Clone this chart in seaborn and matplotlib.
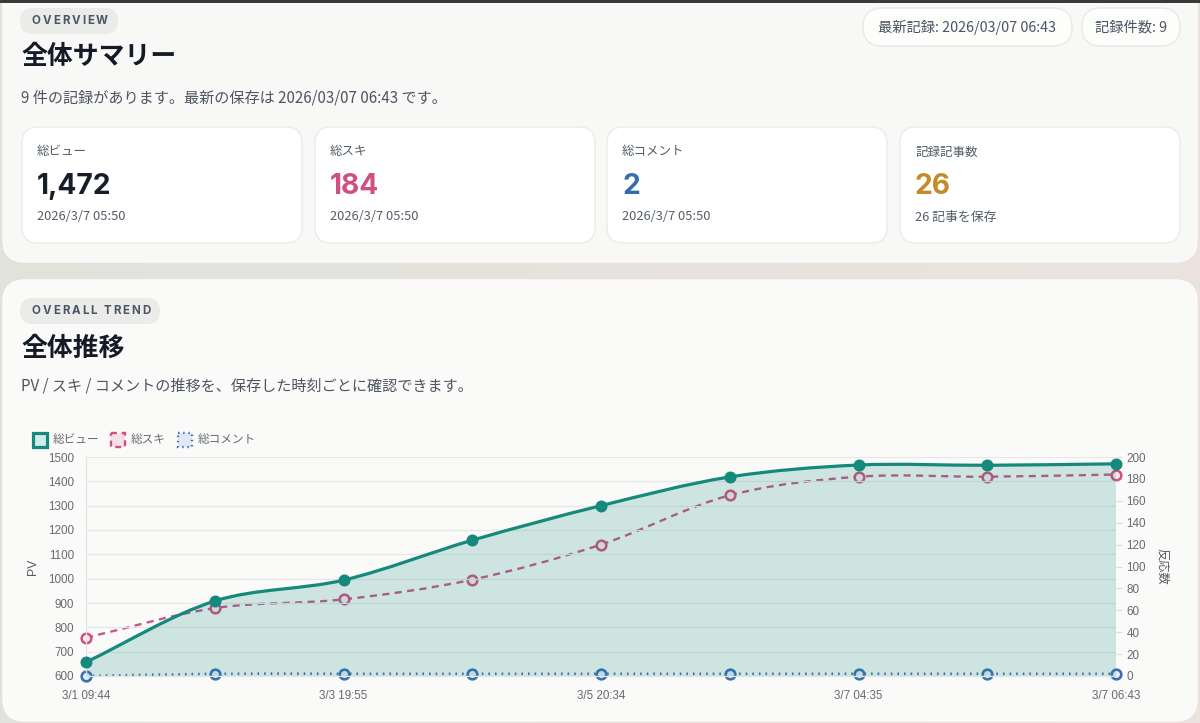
import numpy as np
import pandas as pd
import matplotlib
matplotlib.use("Agg")
import matplotlib.pyplot as plt
import seaborn as sns
from matplotlib.patches import FancyBboxPatch, Rectangle, PathPatch
from matplotlib.path import Path

# ---------------- data ----------------
record_idx = list(range(9))
pv_values = [657, 908, 994, 1158, 1300, 1418, 1467, 1466, 1472]
suki_values = [35, 62, 70, 88, 120, 165, 182, 182, 184]
comment_values = [0, 2, 2, 2, 2, 2, 2, 2, 2]
x_tick_idx = [0, 2, 4, 6, 8]
x_tick_labels = ["3/1 09:44", "3/3 19:55", "3/5 20:34", "3/7 04:35", "3/7 06:43"]
pv_ticks = list(range(600, 1501, 100))
react_ticks = list(range(0, 201, 20))
series_names = ["総ビュー", "総スキ", "総コメント"]

card_labels = ["総ビュー", "総スキ", "総コメント", "記録記事数"]
card_values = ["1,472", "184", "2", "26"]
card_notes = ["2026/3/7 05:50", "2026/3/7 05:50", "2026/3/7 05:50", "26 記事を保存"]

# ---------------- style ----------------
TEAL = "#15897b"
PINK = "#d0507f"
BLUE = "#3a6fb3"
card_colors = ["#161d2b", PINK, "#356cb0", "#c38b2a"]
JP = ["Noto Sans CJK JP", "DejaVu Sans"]
LAT = ["Liberation Sans", "DejaVu Sans"]
INTER = ["Inter", "DejaVu Sans"]

sns.set_theme(style="white")
plt.rcParams["font.family"] = JP

W, H = 1200, 723
fig = plt.figure(figsize=(W / 100, H / 100), dpi=100)
bg = fig.add_axes([0, 0, 1, 1])
bg.set_zorder(-10)
bg.set_xlim(0, W)
bg.set_ylim(H, 0)
bg.axis("off")

# outer gradient background
grad = np.linspace(0, 1, 256)
c0 = np.array([0.886, 0.890, 0.862])
c1 = np.array([0.922, 0.890, 0.872])
img = (c0[None, :] * (1 - grad[:, None]) + c1[None, :] * grad[:, None])[None, :, :]
bg.imshow(img, extent=(0, W, H, 0), aspect="auto", zorder=0)

# panels
bg.add_patch(FancyBboxPatch((3, -40), 1194, 302, boxstyle="round,pad=0,rounding_size=22",
                            fc="#f8f8f7", ec="#fbfbfa", lw=1, zorder=1))
bg.add_patch(FancyBboxPatch((3, 280), 1194, 441, boxstyle="round,pad=0,rounding_size=22",
                            fc="#fafaf9", ec="#fdfdfc", lw=1, zorder=1))
bg.add_patch(Rectangle((0, 0), W, 2.5, fc="#3a3a3a", ec="none", zorder=5))

renderer = fig.canvas.get_renderer()


def spaced_text(x, y, s, spacing, space_px, **kw):
    for ch in s:
        if ch == " ":
            x += space_px
            continue
        t = bg.text(x, y, ch, ha="left", va="center", **kw)
        bb = t.get_window_extent(renderer=renderer)
        x += bb.width + spacing


def pill(x, y, w, h, fc, ec="none"):
    bg.add_patch(FancyBboxPatch((x, y), w, h, boxstyle=f"round,pad=0,rounding_size={h/2}",
                                fc=fc, ec=ec, lw=1, zorder=2))


# ---------- overview panel ----------
pill(20, 8, 98, 26, "#ebebea")
spaced_text(32, 21.5, "OVERVIEW", 1.9, 4, fontsize=8.3, fontweight="bold",
            color="#4b5563", family=INTER, zorder=3)
bg.text(21, 57, "全体サマリー", fontsize=18.6, fontweight="bold", color="#141b26",
        va="center", ha="left", zorder=3)
bg.text(21, 98, "9 件の記録があります。最新の保存は 2026/03/07 06:43 です。", fontsize=10.9,
        color="#4d5560", va="center", ha="left", zorder=3)

pill(863, 8, 209, 38, "#fdfdfc", "#e8e8e6")
bg.text(967.5, 27, "最新記録: 2026/03/07 06:43", fontsize=10.3, color="#4b5563",
        ha="center", va="center", zorder=3)
pill(1082, 8, 98, 38, "#fdfdfc", "#e8e8e6")
bg.text(1131, 27, "記録件数: 9", fontsize=10.3, color="#4b5563",
        ha="center", va="center", zorder=3)

card_x = [22, 315, 607, 900]
for x0, lab, val, note, col in zip(card_x, card_labels, card_values, card_notes, card_colors):
    bg.add_patch(FancyBboxPatch((x0, 127), 280, 116, boxstyle="round,pad=0,rounding_size=16",
                                fc="#ffffff", ec="#ebebea", lw=1, zorder=2))
    bg.text(x0 + 15, 152, lab, fontsize=9, color="#555d66", va="center", ha="left", zorder=3)
    bg.text(x0 + 15, 186, val, fontsize=20.3, fontweight="bold", color=col, family=INTER,
            va="center", ha="left", zorder=3)
    bg.text(x0 + 15, 217, note, fontsize=9.3, color="#555d66", va="center", ha="left", zorder=3)

# ---------- trend panel ----------
pill(20, 298, 140, 26, "#ebebea")
spaced_text(32, 311.5, "OVERALL TREND", 1.9, 4.5, fontsize=8.3, fontweight="bold",
            color="#4b5563", family=INTER, zorder=3)
bg.text(21, 348, "全体推移", fontsize=18.6, fontweight="bold", color="#141b26",
        va="center", ha="left", zorder=3)
bg.text(21, 386, "PV / スキ / コメントの推移を、保存した時刻ごとに確認できます。", fontsize=10.9,
        color="#4d5560", va="center", ha="left", zorder=3)

# legend (manual)
bg.add_patch(Rectangle((33, 433), 14, 14, fc="#d3ebe7", ec=TEAL, lw=2.3, zorder=3))
bg.add_patch(Rectangle((111, 433), 14, 14, fc="#f9e0e9", ec=PINK, lw=1.7,
                       linestyle=(0, (2.5, 2)), zorder=3))
bg.add_patch(Rectangle((178, 433), 14, 14, fc="#dfe8f4", ec=BLUE, lw=1.7,
                       linestyle=(0, (0.6, 1.6)), zorder=3))
for lx, name in zip([53, 131, 198], series_names):
    bg.text(lx, 439.5, name, fontsize=8.4, color="#666b70", va="center", ha="left", zorder=3)

# ---------- chart ----------
L, R, T, B = 86, 1116, 457, 676
ax = fig.add_axes([L / W, 1 - B / H, (R - L) / W, (B - T) / H])
ax2 = ax.twinx()
ax.set_zorder(2)
ax2.set_zorder(1)
ax.patch.set_visible(False)
ax2.patch.set_visible(False)

ax.set_xlim(0, 8)
ax.set_ylim(600, 1500)
ax2.set_ylim(0, 200)
ax.set_yticks(pv_ticks)
ax2.set_yticks(react_ticks)
ax.set_xticks(x_tick_idx)
ax.set_xticklabels(x_tick_labels)

df = pd.DataFrame({"idx": record_idx, "pv": pv_values, "suki": suki_values,
                   "comments": comment_values})


def chart_curve(axis, xs, ys, tension=0.33):
    pts = axis.transData.transform(np.column_stack([xs, ys]).astype(float))
    n = len(pts)
    cp_in, cp_out = [], []
    bb = axis.bbox
    for i in range(n):
        prev = pts[max(i - 1, 0)]
        cur = pts[i]
        nxt = pts[min(i + 1, n - 1)]
        d01 = np.hypot(*(cur - prev))
        d12 = np.hypot(*(nxt - cur))
        tot = d01 + d12
        s01 = d01 / tot if tot else 0
        s12 = d12 / tot if tot else 0
        a = cur - tension * s01 * (nxt - prev)
        b = cur + tension * s12 * (nxt - prev)
        a[1] = np.clip(a[1], bb.y0, bb.y1)
        b[1] = np.clip(b[1], bb.y0, bb.y1)
        cp_in.append(a)
        cp_out.append(b)
    verts = [pts[0]]
    codes = [Path.MOVETO]
    for i in range(n - 1):
        verts += [cp_out[i], cp_in[i + 1], pts[i + 1]]
        codes += [Path.CURVE4] * 3
    verts = axis.transData.inverted().transform(np.array(verts))
    return verts, codes


# reaction axis (drawn below PV)
v, c = chart_curve(ax2, df["idx"], df["comments"])
ax2.add_patch(PathPatch(Path(v, c), fc="none", ec=BLUE, lw=1.9,
                        linestyle=(0, (0.6, 1.9)), zorder=2, clip_on=False))
v, c = chart_curve(ax2, df["idx"], df["suki"])
ax2.add_patch(PathPatch(Path(v, c), fc="none", ec="#c8558a", lw=1.7,
                        linestyle=(0, (3.0, 2.3)), zorder=2))
sc1 = sns.scatterplot(data=df, x="idx", y="comments", ax=ax2, s=48, color="#e8eef7",
                      edgecolor=BLUE, linewidth=1.9, zorder=3, legend=False)
sns.scatterplot(data=df, x="idx", y="suki", ax=ax2, s=48, color="#fbeaf0",
                edgecolor=PINK, linewidth=1.8, zorder=3, legend=False)
for coll in ax2.collections:
    coll.set_clip_on(False)

# PV axis with fill
v, c = chart_curve(ax, df["idx"], df["pv"])
fill_verts = np.vstack([v, [[8, 600], [0, 600], [0, 600]]])
fill_codes = c + [Path.LINETO, Path.LINETO, Path.CLOSEPOLY]
ax.add_patch(PathPatch(Path(fill_verts, fill_codes), fc=TEAL, alpha=0.19, ec="none", zorder=1))
ax.add_patch(PathPatch(Path(v, c), fc="none", ec=TEAL, lw=2.3, zorder=3,
                       capstyle="round", joinstyle="round", clip_on=False))
sns.scatterplot(data=df, x="idx", y="pv", ax=ax, s=58, color=TEAL,
                edgecolor=TEAL, linewidth=1, zorder=4, legend=False)
for coll in ax.collections:
    coll.set_clip_on(False)

# axes styling
ax.grid(axis="y", color="#e6e7e6", lw=0.9)
ax.grid(axis="x", visible=False)
ax2.grid(False)
ax.set_axisbelow(True)
for s in ["top", "right"]:
    ax.spines[s].set_visible(False)
for s in ["top", "left", "bottom", "right"]:
    ax2.spines[s].set_visible(False)
ax.spines["left"].set_color("#e3e4e3")
ax.spines["bottom"].set_color("#e3e4e3")
ax.spines["left"].set_linewidth(0.9)
ax.spines["bottom"].set_linewidth(0.9)

ax.tick_params(axis="y", length=0, pad=8.5, labelsize=8.4, labelcolor="#666b70")
ax.tick_params(axis="x", length=0, pad=9.8, labelsize=8.4, labelcolor="#666b70")
ax2.tick_params(axis="y", length=4.5, width=0.8, color="#dcdcdc", pad=3,
                labelsize=8.4, labelcolor="#666b70")
for lbl in ax.get_xticklabels() + ax.get_yticklabels() + ax2.get_yticklabels():
    lbl.set_family(LAT)

ax.set_xlabel("")
ax.set_ylabel("PV", fontsize=8.8, color="#555b60", family=LAT, va="center")
ax.yaxis.set_label_coords((33 - L) / (R - L), 0.5)
ax2.set_ylabel("反応数", fontsize=8.8, color="#555b60", rotation=270, va="center")
ax2.yaxis.set_label_coords((1162 - L) / (R - L), 0.5)

fig.savefig("out.png", dpi=100)
